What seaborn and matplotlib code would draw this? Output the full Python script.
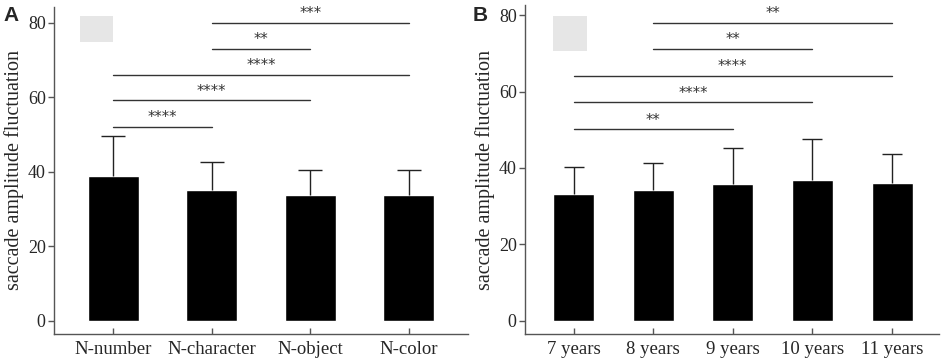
import pandas as pd
import seaborn as sns
import matplotlib.pyplot as plt
from matplotlib.patches import Rectangle

# panel A data
tasks = ["N-number", "N-character", "N-object", "N-color"]
task_mean = [38.7, 35.1, 33.7, 33.6]
task_sd = [10.9, 7.6, 6.8, 6.9]
task_pairs = [(0, 1), (0, 2), (0, 3), (1, 2), (1, 3)]
task_pair_y = [52.1, 59.2, 66.0, 73.0, 80.0]
task_stars = ["****", "****", "****", "**", "***"]

# panel B data
ages = ["7 years", "8 years", "9 years", "10 years", "11 years"]
age_mean = [33.3, 34.2, 35.9, 36.8, 36.0]
age_sd = [7.0, 7.2, 9.4, 10.7, 7.6]
age_pairs = [(0, 2), (0, 3), (0, 4), (1, 3), (1, 4)]
age_pair_y = [50.1, 57.2, 64.1, 71.2, 78.0]
age_stars = ["**", "****", "****", "**", "**"]

sns.set_style("white")
plt.rcParams["font.family"] = ["Liberation Serif", "DejaVu Serif"]

fig = plt.figure(figsize=(9.45, 3.64), dpi=100)
W, H = 945, 364
axA = fig.add_axes([54 / W, 30 / H, 414 / W, 327 / H])
axB = fig.add_axes([525 / W, 30 / H, 414 / W, 329 / H])


def draw_panel(ax, cats, means, sds, pairs, pair_y, stars, ylim, xlim, cap, rect):
    df = pd.DataFrame({"cat": cats, "mean": means})
    sns.barplot(data=df, x="cat", y="mean", color="black", width=0.515,
                saturation=1, errorbar=None, ax=ax)
    eb = ax.errorbar(range(len(cats)), means, yerr=[[0] * len(cats), sds],
                     fmt="none", ecolor="#222222", elinewidth=1, capsize=cap,
                     capthick=1)
    # only the upper cap is shown
    eb[1][0].set_visible(False)
    for (i, j), y, s in zip(pairs, pair_y, stars):
        ax.plot([i, j], [y, y], color="#333333", lw=1)
        ax.text((i + j) / 2, y + 0.4, s, ha="center", va="bottom",
                fontsize=10.5, family="DejaVu Sans", color="#333333")
    ax.add_patch(Rectangle(rect[:2], rect[2], rect[3], transform=ax.transAxes,
                           facecolor="#e6e6e6", edgecolor="none"))
    ax.set_ylim(*ylim)
    ax.set_xlim(*xlim)
    ax.set_yticks([0, 20, 40, 60, 80])
    ax.set_xlabel("")
    ax.set_ylabel("saccade amplitude fluctuation", fontsize=14.5, labelpad=3)
    for side in ["top", "right"]:
        ax.spines[side].set_visible(False)
    for side in ["left", "bottom"]:
        ax.spines[side].set_color("#555555")
        ax.spines[side].set_linewidth(1)
    ax.tick_params(axis="y", direction="out", length=4, width=1,
                   color="#555555", labelsize=13, pad=2, left=True)
    ax.tick_params(axis="x", direction="in", length=4, width=1,
                   color="#555555", labelsize=13.5, pad=5, bottom=True)


draw_panel(axA, tasks, task_mean, task_sd, task_pairs, task_pair_y, task_stars,
           (-3.6, 84.2), (-0.6, 3.6), 8.4, (0.063, 0.893, 0.08, 0.079))
draw_panel(axB, ages, age_mean, age_sd, age_pairs, age_pair_y, age_stars,
           (-3.5, 82.7), (-0.61, 4.59), 7.3, (0.068, 0.861, 0.082, 0.105))

fig.text(3 / W, 1 - 6 / H, "A", fontsize=15, fontweight="bold",
         family="Liberation Sans", va="top", ha="left")
fig.text(473 / W, 1 - 6 / H, "B", fontsize=15, fontweight="bold",
         family="Liberation Sans", va="top", ha="left")

fig.savefig("out.png", dpi=100)
